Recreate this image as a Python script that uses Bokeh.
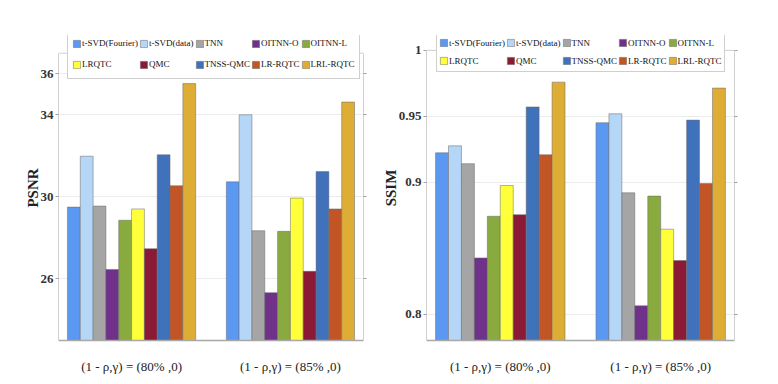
from bokeh.plotting import figure
from bokeh.layouts import row
from bokeh.models import FixedTicker, LinearAxis, Range1d, Span
from bokeh.transform import dodge
from bokeh.embed import file_html
from bokeh.resources import INLINE

methods = ["t-SVD(Fourier)", "t-SVD(data)", "TNN", "OITNN-O", "OITNN-L",
           "LRQTC", "QMC", "TNSS-QMC", "LR-RQTC", "LRL-RQTC"]
colors = ["#5A98F2", "#B5D6F6", "#A5A5A5", "#6F3189", "#89AA3F",
          "#FFFF3A", "#8A1A35", "#3F72BA", "#C15525", "#DDAD36"]
groups = [1, 2]
group_labels = ["(1 - \u03c1,\u03b3) = (80% ,0)", "(1 - \u03c1,\u03b3) = (85% ,0)"]

psnr = {
    "t-SVD(Fourier)": [29.5, 30.73],
    "t-SVD(data)":    [31.98, 34.0],
    "TNN":            [29.55, 28.35],
    "OITNN-O":        [26.46, 25.33],
    "OITNN-L":        [28.86, 28.32],
    "LRQTC":          [29.41, 29.94],
    "QMC":            [27.47, 26.37],
    "TNSS-QMC":       [32.05, 31.23],
    "LR-RQTC":        [30.54, 29.41],
    "LRL-RQTC":       [35.52, 34.62],
}
ssim = {
    "t-SVD(Fourier)": [0.9223, 0.9451],
    "t-SVD(data)":    [0.9276, 0.9519],
    "TNN":            [0.9141, 0.8920],
    "OITNN-O":        [0.8426, 0.8063],
    "OITNN-L":        [0.8742, 0.8895],
    "LRQTC":          [0.8975, 0.8644],
    "QMC":            [0.8754, 0.8406],
    "TNSS-QMC":       [0.9571, 0.9471],
    "LR-RQTC":        [0.9208, 0.8990],
    "LRL-RQTC":       [0.9759, 0.9714],
}
psnr_ticks = [26, 30, 34, 36]
psnr_limits = (23.0, 37.0)
ssim_ticks = [0.8, 0.9, 0.95, 1.0]
ssim_limits = (0.78, 1.0)

FONT = "Liberation Serif"
BAR_W = 0.0807
BOX = "#d0d0d0"


def make_panel(data, ticks, limits, ylabel, width, height, border_l, border_r,
               legend_top, box_top, box_bottom, leg_loc, leg_pad, leg_row_h):
    # frame spans from legend top to box bottom; extra headroom above the box
    lo, hi = limits
    px_per_unit = (box_bottom - box_top) / (hi - lo)
    y_end = hi + (box_top - legend_top) / px_per_unit
    p = figure(width=width, height=height, output_backend="svg", toolbar_location=None,
               x_range=Range1d(0.54, 2.46), y_range=Range1d(lo, y_end),
               min_border_left=border_l, min_border_right=border_r,
               min_border_top=legend_top, min_border_bottom=height - box_bottom)
    p.background_fill_color = "white"
    p.border_fill_color = "white"
    p.outline_line_color = None
    for i, m in enumerate(methods):
        src = {"x": groups, "y": data[m]}
        p.vbar(x=dodge("x", (i - 4.5) * BAR_W, range=p.x_range), top="y", bottom=0,
               width=BAR_W, source=src, fill_color=colors[i],
               line_color="#6a6a6a", line_alpha=0.5, line_width=1,
               legend_label=m)
    # top border of the box
    p.add_layout(Span(location=hi, dimension="width", line_color=BOX, line_width=1))
    # x axis
    xa = p.xaxis[0]
    xa.ticker = FixedTicker(ticks=groups)
    xa.major_label_overrides = {g: lab for g, lab in zip(groups, group_labels)}
    xa.major_tick_line_color = None
    xa.minor_tick_line_color = None
    xa.axis_line_color = "#a8a8a8"
    xa.axis_line_width = 1.5
    xa.major_label_text_font = FONT
    xa.major_label_text_font_size = "13px"
    xa.major_label_text_color = "#222222"
    xa.major_label_standoff = 12
    # y axis
    ya = p.yaxis[0]
    ya.ticker = FixedTicker(ticks=ticks)
    ya.bounds = limits
    ya.axis_label = ylabel
    ya.axis_label_text_font = FONT
    ya.axis_label_text_font_style = "bold"
    ya.axis_label_text_font_size = "15px"
    ya.axis_label_text_color = "#222222"
    ya.axis_label_standoff = -3
    ya.major_label_text_font = FONT
    ya.major_label_text_font_size = "13px"
    ya.major_label_text_font_style = "bold"
    ya.major_label_text_color = "#333333"
    ya.major_label_standoff = 2
    ya.major_tick_out = 3
    ya.major_tick_in = 0
    ya.minor_tick_line_color = None
    ya.axis_line_color = BOX
    ya.major_tick_line_color = "#a0a0a0"
    # right side of the box with small outward ticks (no labels)
    ra = LinearAxis(ticker=FixedTicker(ticks=[], minor_ticks=ticks), bounds=limits)
    ra.minor_tick_out = 3
    ra.minor_tick_in = 0
    ra.minor_tick_line_color = "#a0a0a0"
    ra.axis_line_color = BOX
    p.add_layout(ra, "right")
    p.xgrid.grid_line_color = None
    p.ygrid.ticker = FixedTicker(ticks=ticks)
    p.ygrid.grid_line_color = "#ececec"
    # legend
    lg = p.legend[0]
    lg.orientation = "horizontal"
    lg.ncols = 5
    lg.location = leg_loc
    lg.label_text_font = FONT
    lg.label_text_font_size = "9px"
    lg.label_text_color = "#111111"
    lg.label_standoff = 1
    lg.glyph_width = 9
    lg.glyph_height = 9
    lg.label_height = leg_row_h
    lg.spacing = 1
    lg.padding = leg_pad
    lg.margin = 0
    lg.border_line_color = "#a0a0a0"
    lg.background_fill_alpha = 1.0
    return p


p1 = make_panel(psnr, psnr_ticks, psnr_limits, "PSNR", 376, 380, 58, 13,
                35, 53, 345, (9, 261), 4, 20)
p2 = make_panel(ssim, ssim_ticks, ssim_limits, "SSIM", 400, 380, 50, 42,
                32, 47, 340, (10, 268), 2, 17)

layout = row(p1, p2)
open("out.html", "w").write(file_html(layout, INLINE))
